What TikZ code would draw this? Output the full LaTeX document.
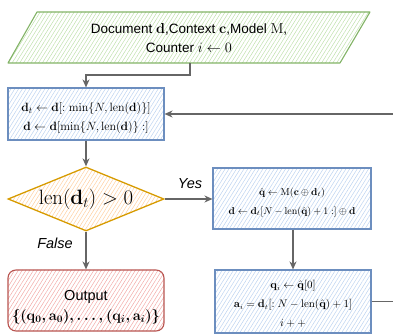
\documentclass[tikz,border=0pt]{standalone}
\usepackage[no-math]{fontspec}
\setmainfont{Liberation Sans}
\usepackage{amsmath,amssymb}
\usetikzlibrary{shapes.geometric,patterns.meta,arrows.meta}
\definecolor{gstroke}{HTML}{82B366}
\definecolor{ghatch}{HTML}{BFE0AC}
\definecolor{bstroke}{HTML}{6C8EBF}
\definecolor{bhatch}{HTML}{BCD3F0}
\definecolor{ostroke}{HTML}{D79B00}
\definecolor{ohatch}{HTML}{FFCFA0}
\definecolor{rstroke}{HTML}{B85450}
\definecolor{rhatch}{HTML}{F2A9A6}
\definecolor{arrowc}{HTML}{666666}
\tikzset{
  hatch/.style={pattern={Lines[angle=58,distance=3.2pt,line width=0.5pt]},pattern color=#1},
  bluebox/.style={draw=bstroke,line width=1.1pt,hatch=bhatch,rectangle,inner sep=0pt},
  txt/.style={align=center,inner sep=0pt},
  conn/.style={draw=arrowc,line width=1.1pt,-{Stealth[length=8pt,width=7pt,inset=2.5pt]}},
  lbl/.style={font=\fontsize{14.5}{16}\selectfont\itshape,inner sep=0pt},
}
\begin{document}
\begin{tikzpicture}[x=1pt,y=-1pt]
\useasboundingbox (0,0) rectangle (393,336);
\clip (0,0) rectangle (393,336);
% input parallelogram
\draw[draw=gstroke,line width=1.1pt,hatch=ghatch,line join=round] (37,12) -- (370,12) -- (340,63) -- (8,63) -- cycle;
\node[txt,font=\fontsize{13.5}{19}\selectfont] (inp) at (189,38.5)
  {Document $\mathbf{d}$,Context $\mathbf{c}$,Model $\mathrm{M}$,\\Counter $i\leftarrow 0$};
\coordinate (inb) at (190,63);
% box 1
\node[bluebox,minimum width=156pt,minimum height=52pt] (b1) at (86,114) {};
\node[txt,font=\fontsize{12.3}{19}\selectfont] (b1t) at (86,118)
  {$\mathbf{d}_t\leftarrow\mathbf{d}[:\min\{N,\mathrm{len}(\mathbf{d})\}]$\\
   $\mathbf{d}\leftarrow\mathbf{d}[\min\{N,\mathrm{len}(\mathbf{d})\}:]$};
% diamond
\node[diamond,aspect=2.44,draw=ostroke,line width=1.3pt,hatch=ohatch,minimum width=156pt,minimum height=64pt,inner sep=0pt] (dia) at (86,199) {};
\node[txt,font=\fontsize{19.5}{21}\selectfont] (diat) at (86,199)
  {$\mathrm{len}(\mathbf{d}_t)>0$};
% box 2
\node[bluebox,minimum width=158pt,minimum height=61pt] (b2) at (292,198.5) {};
\node[txt,font=\fontsize{10.4}{19}\selectfont] (b2t) at (292,202.5)
  {$\hat{\mathbf{q}}\leftarrow\mathrm{M}(\mathbf{c}\oplus\mathbf{d}_t)$\\
   $\mathbf{d}\leftarrow\mathbf{d}_t[N-\mathrm{len}(\hat{\mathbf{q}})+1:]\oplus\mathbf{d}$};
% box 3
\node[bluebox,minimum width=156pt,minimum height=63pt] (b3) at (293,301.5) {};
\node[txt,font=\fontsize{10.6}{19}\selectfont] (b3t) at (293,304)
  {$\mathbf{q}_i\leftarrow\hat{\mathbf{q}}[0]$\\
   $\mathbf{a}_i=\mathbf{d}_t[:N-\mathrm{len}(\hat{\mathbf{q}})+1]$\\
   $i++$};
% output
\node[draw=rstroke,line width=1.1pt,hatch=rhatch,rounded corners=8pt,minimum width=156pt,minimum height=61pt,inner sep=0pt] (out) at (86,300.5) {};
\node[txt,font=\fontsize{14.5}{20}\selectfont] (outt) at (86,307.5)
  {Output\\{\fontsize{13.8}{20}\selectfont\boldmath$\{(\mathbf{q}_0,\mathbf{a}_0),\ldots,(\mathbf{q}_i,\mathbf{a}_i)\}$}};
% connectors
\draw[conn] (inb) -- ++(0,12) -| (b1.north);
\draw[conn] (b1.south) -- (dia.north);
\draw[conn] (dia.east) -- (dia.east -| b2.west);
\draw[conn] (b2.south -| b3.north) -- (b3.north);
\draw[conn] (dia.south) -- (out.north);
\draw[conn] (b3.east) -- ++(40,0) |- (b1.east);
% labels
\node[lbl] (yes) at (190,184) {Yes};
\node[lbl] (false) at (55,243) {False};
\end{tikzpicture}
\end{document}
